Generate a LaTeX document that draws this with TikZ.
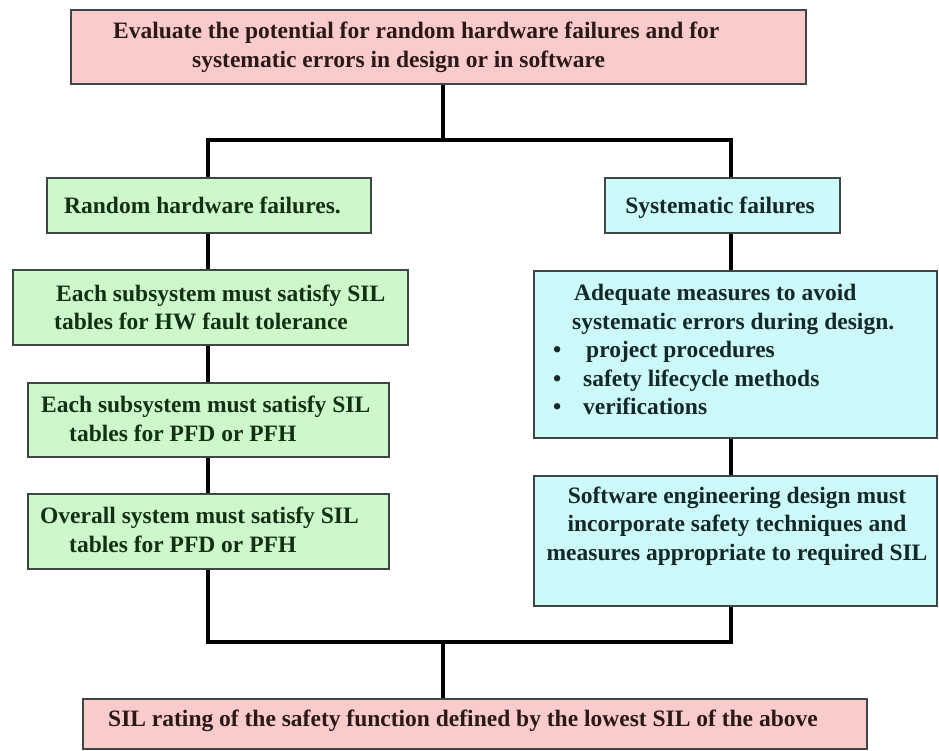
\documentclass[tikz,border=0pt]{standalone}
\usepackage{fontspec}
\setmainfont{Liberation Serif}
\definecolor{pinkfill}{HTML}{F9CBCB}
\definecolor{greenfill}{HTML}{CCF8CC}
\definecolor{cyanfill}{HTML}{CCF9FA}
\definecolor{boxline}{HTML}{3F4746}
\definecolor{pinktext}{HTML}{2B1818}
\definecolor{greentext}{HTML}{143014}
\definecolor{cyantext}{HTML}{142828}
\begin{document}
\begin{tikzpicture}[x=1pt,y=-1pt,
  box/.style={draw=boxline, line width=2.2pt, inner sep=0pt, anchor=north west},
  pinkbox/.style={box, fill=pinkfill},
  greenbox/.style={box, fill=greenfill},
  cyanbox/.style={box, fill=cyanfill},
  txt/.style={inner sep=0pt, font=\bfseries\fontsize{23.5}{28.5}\selectfont, align=left, anchor=west},
  conn/.style={line width=3.2pt, draw=black}]
\useasboundingbox (0,0) rectangle (939,751);

% boxes
\node[pinkbox,  minimum width=735pt, minimum height=74pt]  (top) at (70,9) {};
\node[greenbox, minimum width=324pt, minimum height=55pt]  (L1)  at (46,177) {};
\node[cyanbox,  minimum width=235pt, minimum height=55pt]  (R1)  at (604,177) {};
\node[greenbox, minimum width=395pt, minimum height=75pt]  (L2)  at (12,269) {};
\node[greenbox, minimum width=361pt, minimum height=74pt]  (L3)  at (27,382) {};
\node[greenbox, minimum width=361pt, minimum height=75pt]  (L4)  at (27,493) {};
\node[cyanbox,  minimum width=403pt, minimum height=167pt] (R2)  at (533,270) {};
\node[cyanbox,  minimum width=403pt, minimum height=130pt] (R3)  at (533,475) {};
\node[pinkbox,  minimum width=784pt, minimum height=50pt]  (bot) at (82,698) {};

% texts
\node[txt, text=pinktext] (ttop) at (113,47.5)
  {Evaluate the potential for random hardware failures and for\\\hspace*{79pt}systematic errors in design or in software};
\node[txt, text=greentext, anchor=center] (tL1) at (202.5,205) {Random hardware failures.};
\node[txt, text=cyantext, anchor=center] (tR1) at (720,207.5) {Systematic failures};
\node[txt, text=greentext] (tL2) at (54,307.5)
  {\hspace*{2pt}Each subsystem must satisfy SIL\\tables for HW fault tolerance};
\node[txt, text=greentext] (tL3) at (41,419)
  {Each subsystem must satisfy SIL\\\hspace*{28pt}tables for PFD or PFH};
\node[txt, text=greentext] (tL4) at (40,530)
  {Overall system must satisfy SIL\\\hspace*{29pt}tables for PFD or PFH};
\node[txt, text=cyantext] (tR2) at (553,349.5)
  {\hspace*{21pt}Adequate measures to avoid\\
   \hspace*{19pt}systematic errors during design.\\
   \makebox[33pt][l]{•}project procedures\\
   \makebox[30pt][l]{•}safety lifecycle methods\\
   \makebox[30pt][l]{•}verifications};
\node[txt, text=cyantext, align=center, anchor=center] (tR3) at (737,526)
  {Software engineering design must\\incorporate safety techniques and\\measures appropriate to required SIL};
\node[txt, text=pinktext, anchor=center] (tbot) at (463,721)
  {SIL rating of the safety function defined by the lowest SIL of the above};

% junctions
\coordinate (jm) at (443,140);
\coordinate (jl) at (208,140);
\coordinate (jr) at (731,140);
\coordinate (bm) at (443,642);
\coordinate (bl) at (208,642);
\coordinate (br) at (731,642);

% connectors
\draw[conn] (jm |- top.south) -- (jm);
\draw[conn] (jl |- L1.north) -- (jl) -- (jr) -- (jr |- R1.north);
\draw[conn] (jl |- L1.south) -- (jl |- L2.north);
\draw[conn] (jl |- L2.south) -- (jl |- L3.north);
\draw[conn] (jl |- L3.south) -- (jl |- L4.north);
\draw[conn] (jr |- R1.south) -- (jr |- R2.north);
\draw[conn] (jr |- R2.south) -- (jr |- R3.north);
\draw[conn] (bl |- L4.south) -- (bl) -- (br) -- (br |- R3.south);
\draw[conn] (bm) -- (bm |- bot.north);
\end{tikzpicture}
\end{document}
